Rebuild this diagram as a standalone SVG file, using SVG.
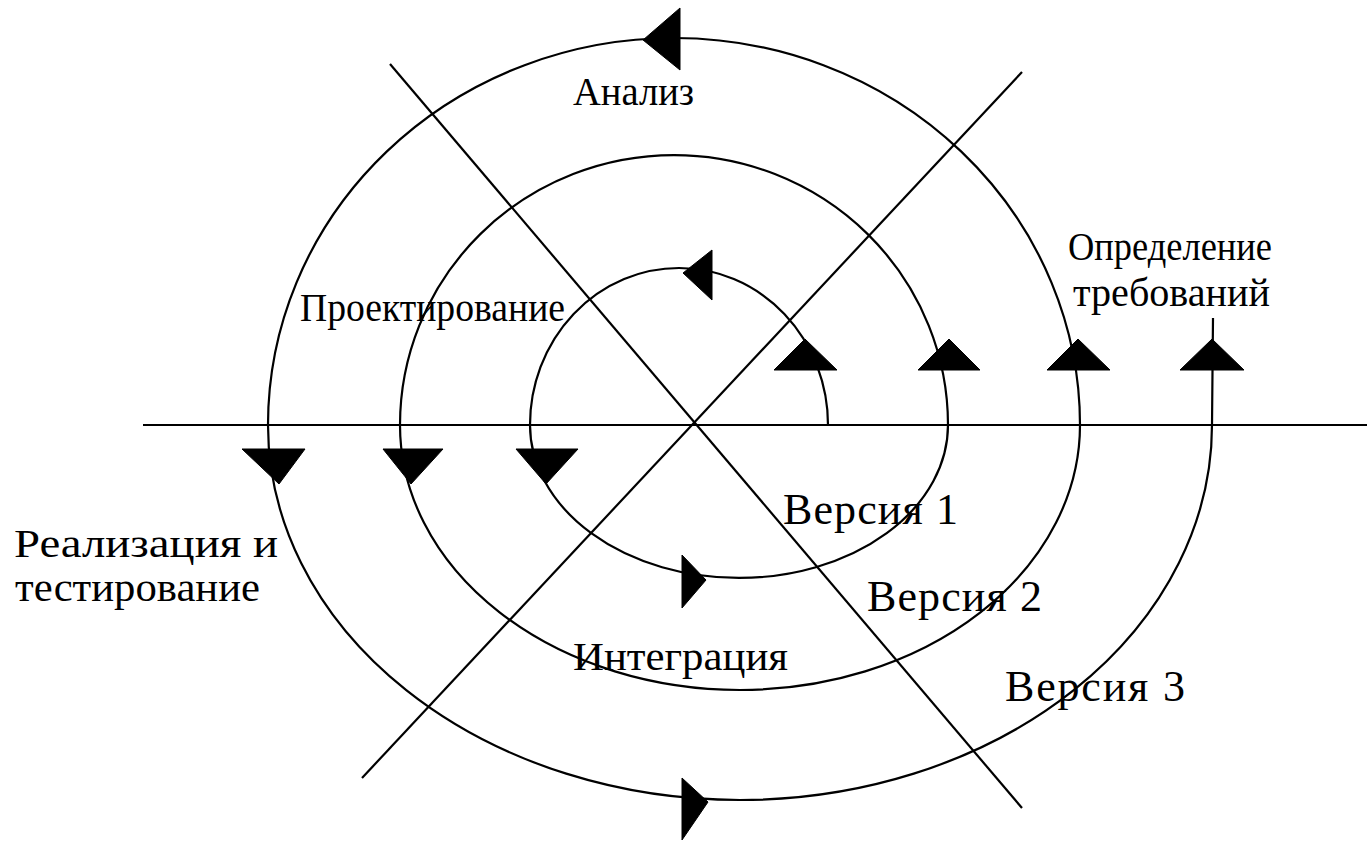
<svg xmlns="http://www.w3.org/2000/svg" width="1367" height="846" viewBox="0 0 1367 846">
<style>
.ln{stroke:#000;stroke-width:2.2;fill:none}
.ar{fill:#000;stroke:#000;stroke-width:1;stroke-linejoin:round}
.t{font-family:"Liberation Serif","Times New Roman",serif;font-size:41px;fill:#000}
.v{font-size:44px}
</style>
<rect width="1367" height="846" fill="#fff"/>
<g id="connectors">
<line class="ln" x1="143" y1="425" x2="1367" y2="425"/>
<line class="ln" x1="390" y1="64" x2="1022" y2="808"/>
<line class="ln" x1="1022" y1="72" x2="362" y2="778"/>
<path class="ln" d="M 828 425 A 149 157 0 0 0 530 425 A 209 153 0 0 0 948 425 A 274 270 0 0 0 400 425 A 340 265 0 0 0 1080 425 A 406 387 0 0 0 268 425 A 472 375 0 0 0 1212 425 L 1213 318"/>
</g>
<g id="arrows">
<polygon class="ar" points="680,8 680,70 643,40"/>
<polygon class="ar" points="712,250 712,300 683,273"/>
<polygon class="ar" points="682,555 682,608 706,580"/>
<polygon class="ar" points="682,778 682,840 708,802"/>
<polygon class="ar" points="774,370 837,370 805,339"/>
<polygon class="ar" points="918,370 980,370 949,339"/>
<polygon class="ar" points="1047,370 1110,370 1078,339"/>
<polygon class="ar" points="1180,370 1244,370 1212,339"/>
<polygon class="ar" points="242,449 305,449 279,484"/>
<polygon class="ar" points="383,449 443,449 411,484"/>
<polygon class="ar" points="516,449 578,449 546,484"/>
</g>
<g id="label-analysis"><text class="t" x="573" y="105" textLength="121" lengthAdjust="spacingAndGlyphs">Анализ</text></g>
<g id="label-requirements">
<text class="t" x="1068" y="260" textLength="204" lengthAdjust="spacingAndGlyphs">Определение</text>
<text class="t" x="1073" y="306" textLength="197" lengthAdjust="spacingAndGlyphs">требований</text>
</g>
<g id="label-design"><text class="t" x="300" y="321" textLength="265" lengthAdjust="spacingAndGlyphs">Проектирование</text></g>
<g id="label-implementation">
<text class="t" x="14" y="557" textLength="264" lengthAdjust="spacingAndGlyphs">Реализация и</text>
<text class="t" x="15" y="601" textLength="245" lengthAdjust="spacingAndGlyphs">тестирование</text>
</g>
<g id="label-integration"><text class="t" x="573" y="670" textLength="215" lengthAdjust="spacingAndGlyphs">Интеграция</text></g>
<g id="label-v1"><text class="t v" x="783" y="524" textLength="175" lengthAdjust="spacing">Версия 1</text></g>
<g id="label-v2"><text class="t v" x="867" y="611" textLength="175" lengthAdjust="spacing">Версия 2</text></g>
<g id="label-v3"><text class="t v" x="1005" y="701" textLength="180" lengthAdjust="spacing">Версия 3</text></g>
</svg>
